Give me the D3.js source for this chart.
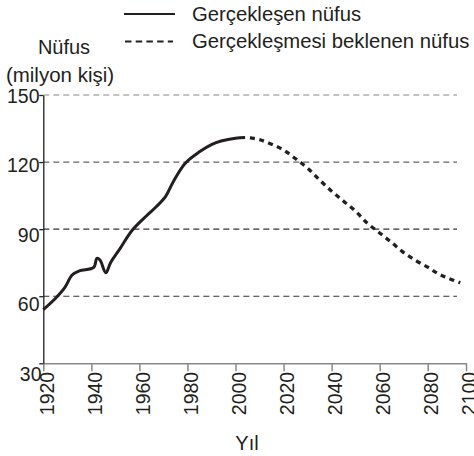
<!DOCTYPE html>
<html>
<head>
<meta charset="utf-8">
<script src="https://cdn.jsdelivr.net/npm/d3@7"></script>
<style>
  html, body { margin: 0; padding: 0; background: #fff; }
  svg { display: block; }
  text { font-family: "Liberation Sans", Arial, sans-serif; fill: #231f20; }
</style>
</head>
<body>
<svg id="chart" width="474" height="456"></svg>
<script>
// ---- data ----
const actualYears  = [1920, 1925, 1929, 1932, 1935, 1941, 1942.3, 1943.6, 1946, 1948, 1952, 1957, 1963, 1967, 1971, 1974, 1979, 1985, 1990, 1994, 2000, 2004];
const actualValues = [54, 59, 64, 69.5, 71.3, 72.9, 76.9, 76.2, 70.5, 75, 81.4, 89.5, 96, 100, 104.8, 111, 119.4, 124.6, 127.8, 129.4, 130.7, 131];
const projYears    = [2006, 2010, 2015, 2020, 2025, 2030, 2035, 2040, 2045, 2050, 2055, 2060, 2065, 2070, 2075, 2080, 2085, 2090, 2097];
const projValues   = [130.8, 130, 128, 125.4, 121.5, 117.3, 112, 107, 102.5, 98, 92.5, 88.3, 84, 79.5, 76, 73, 70.3, 68.3, 66];
const xTicks = [1920, 1940, 1960, 1980, 2000, 2020, 2040, 2060, 2080, 2100];
const yTicks = [30, 60, 90, 120, 150];
const gridValues = [60, 90, 120, 150];
const legendLabels = ["Gerçekleşen nüfus", "Gerçekleşmesi beklenen nüfus"];
const yTitle = ["Nüfus", "(milyon kişi)"];
const xTitle = "Yıl";

// ---- scales ----
const x = d3.scaleLinear().domain([1920, 2080, 2100]).range([43.3, 427.7, 466]);
const y = d3.scaleLinear().domain([30, 150]).range([363.3, 95]);
const yLab = d3.scaleLinear().domain([30, 150]).range([374, 95.5]);

const svg = d3.select("#chart");
const ink = "#231f20";

// gridlines
svg.append("g").selectAll("line").data(gridValues).join("line")
  .attr("x1", x(1920)).attr("x2", 457)
  .attr("y1", d => y(d)).attr("y2", d => y(d))
  .attr("stroke", d => d >= 150 ? "#888" : (d >= 120 ? "#666" : "#333"))
  .attr("stroke-width", 1.2)
  .attr("stroke-dasharray", "6,4");

// x axis
const xAxis = d3.axisBottom(x).tickValues(xTicks).tickFormat(d3.format("d")).tickSize(8).tickSizeOuter(0);
const gx = svg.append("g").attr("transform", `translate(0,${y(30)})`).call(xAxis);
gx.select(".domain").attr("stroke", "#888").attr("stroke-width", 1.5);
gx.selectAll(".tick line").attr("stroke", "#888").attr("stroke-width", 1.5);
gx.selectAll(".tick text")
  .attr("font-size", 19.5)
  .attr("font-family", "Liberation Sans, Arial, sans-serif")
  .attr("fill", ink)
  .attr("transform", "rotate(-90)")
  .attr("text-anchor", "end")
  .attr("x", -8.5)
  .attr("y", 0)
  .attr("dy", "0.5em");

// y axis line + ticks
const yAxis = d3.axisLeft(y).tickValues(yTicks).tickSize(4).tickSizeOuter(0).tickFormat("");
const gy = svg.append("g").attr("transform", `translate(${x(1920)},0)`).call(yAxis);
gy.select(".domain").attr("stroke", ink).attr("stroke-width", 1.3);
gy.selectAll(".tick line").attr("stroke", ink).attr("stroke-width", 1.3);

// y tick labels
svg.append("g").selectAll("text").data(yTicks).join("text")
  .attr("x", d => d === 30 ? 41.5 : 39.5)
  .attr("y", d => yLab(d))
  .attr("dy", "0.36em")
  .attr("text-anchor", "end")
  .attr("font-size", 19.5)
  .text(d => d);

// lines
const line = d3.line().x(d => x(d[0])).y(d => y(d[1])).curve(d3.curveCatmullRom.alpha(0.5));
svg.append("path")
  .datum(actualYears.map((yr, i) => [yr, actualValues[i]]))
  .attr("d", line)
  .attr("fill", "none").attr("stroke", ink).attr("stroke-width", 3)
  .attr("stroke-linejoin", "round");
svg.append("path")
  .datum(projYears.map((yr, i) => [yr, projValues[i]]))
  .attr("d", line)
  .attr("fill", "none").attr("stroke", ink).attr("stroke-width", 3.3)
  .attr("stroke-dasharray", "5,4.5");

// legend
const lg = svg.append("g");
lg.append("line").attr("x1", 124).attr("x2", 175).attr("y1", 14).attr("y2", 14)
  .attr("stroke", ink).attr("stroke-width", 2.2);
lg.append("line").attr("x1", 125).attr("x2", 173).attr("y1", 41.5).attr("y2", 41.5)
  .attr("stroke", ink).attr("stroke-width", 2).attr("stroke-dasharray", "6.5,4.2");
lg.selectAll("text").data(legendLabels).join("text")
  .attr("x", 192).attr("y", (d, i) => 20.5 + i * 27)
  .attr("font-size", 20.3)
  .text(d => d);

// axis titles
svg.append("text").attr("x", 64).attr("y", 53.5).attr("text-anchor", "middle").attr("font-size", 20).text(yTitle[0]);
svg.append("text").attr("x", 60).attr("y", 82).attr("text-anchor", "middle").attr("font-size", 20.5).text(yTitle[1]);
svg.append("text").attr("x", 247).attr("y", 450).attr("text-anchor", "middle").attr("font-size", 20).text(xTitle);
</script>
</body>
</html>
